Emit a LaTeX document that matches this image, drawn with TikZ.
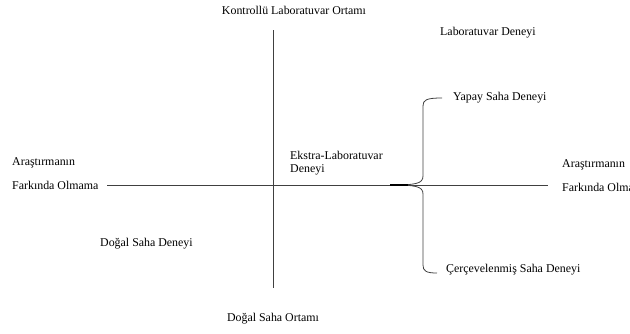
\documentclass[tikz,border=0pt]{standalone}
\usepackage{fontspec}
\setmainfont{Liberation Serif}

\begin{document}
\begin{tikzpicture}[x=1pt,y=-1pt]
\tikzset{etiket/.style={inner sep=0pt, font=\fontsize{11.9}{13.5}\selectfont}}
\tikzset{eksen/.style={draw=black!75, line width=0.8pt}}
\clip (0,0) rectangle (630,333);
\useasboundingbox (0,0) rectangle (630,333);
% eksenler
\coordinate (U) at (273,30);
\coordinate (A) at (273,288);
\coordinate (S) at (107,185);
\coordinate (R) at (548,185);
\draw[eksen] (U) -- (A);
\draw[eksen] (S) -- (R);
% etiketler
\node[etiket] (KLO) at (294,10) {Kontrollü Laboratuvar Ortamı};
\node[etiket] (DSO) at (273,319) {Doğal Saha Ortamı};
\node[etiket, anchor=west] (AS1) at (12,163) {Araştırmanın};
\node[etiket, anchor=west] (FS1) at (12,185) {Farkında Olmama};
\node[etiket, anchor=west] (AS2) at (562,165) {Araştırmanın};
\node[etiket, anchor=west] (FS2) at (562,187) {Farkında Olmama};
\node[etiket, anchor=west] (LD) at (440,33) {Laboratuvar Deneyi};
\node[etiket, anchor=west] (YSD) at (453,98) {Yapay Saha Deneyi};
\node[etiket, anchor=west] (CSD) at (446,270) {Çerçevelenmiş Saha Deneyi};
\node[etiket, anchor=west, align=left] (ELD) at (290,163) {Ekstra-Laboratuvar\\Deneyi};
\node[etiket, anchor=west] (DSD) at (100,244) {Doğal Saha Deneyi};
% parantez
\coordinate (P0) at (390,185);
\coordinate (P1) at (442,98);
\coordinate (P2) at (437,273);
\draw[eksen] (P1) .. controls (426,98) and (423,100) .. (423,106)
  -- (423,176) .. controls (423,184) and (415,185) .. (P0);
\draw[eksen] (P0) .. controls (415,185) and (423,186) .. (423,194)
  -- (423,265) .. controls (423,271) and (426,273) .. (P2);
\draw[line width=1.6pt] (P0) -- (408,185);
\end{tikzpicture}
\end{document}
